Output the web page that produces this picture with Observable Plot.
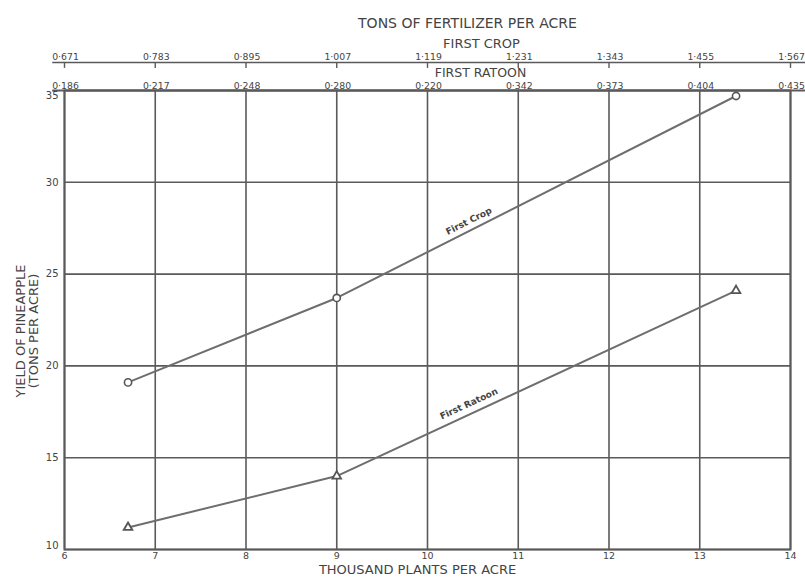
<!DOCTYPE html>
<html>
<head>
<meta charset="utf-8">
<script src="https://cdn.jsdelivr.net/npm/d3@7"></script>
<script src="https://cdn.jsdelivr.net/npm/@observablehq/plot@0.6"></script>
<style>
  html, body { margin: 0; padding: 0; background: #fff; }
</style>
</head>
<body>
<div id="chart"></div>
<script>
// ---- data ----
const xTicks = [6, 7, 8, 9, 10, 11, 12, 13, 14];
const yTicks = [10, 15, 20, 25, 30, 35];
const cropFertLabels = ["0·671", "0·783", "0·895", "1·007", "1·119", "1·231", "1·343", "1·455", "1·567"];
const ratoonFertLabels = ["0·186", "0·217", "0·248", "0·280", "0·220", "0·342", "0·373", "0·404", "0·435"];
const plants = [6.7, 9.0, 13.4];
const firstCrop = [19.1, 23.7, 34.7];
const firstRatoon = [11.2, 14.0, 24.1];
const seriesNames = ["First Crop", "First Ratoon"];

const crop = plants.map((x, i) => ({x, y: firstCrop[i]}));
const ratoon = plants.map((x, i) => ({x, y: firstRatoon[i]}));

// label position: point on a series' segment at a given x
function onLine(pts, x) {
  for (let i = 0; i < pts.length - 1; i++) {
    if (x >= pts[i].x && x <= pts[i + 1].x) {
      const t = (x - pts[i].x) / (pts[i + 1].x - pts[i].x);
      return pts[i].y + t * (pts[i + 1].y - pts[i].y);
    }
  }
  return pts[pts.length - 1].y;
}
const labelAt = 10.5;

const ink = "#444";
const gridInk = "#5a5a5a";
const lineInk = "#6e6e6e";
const font = "'DejaVu Sans', 'Liberation Sans', sans-serif";

const yMid = yTicks.slice(1, -1);
const yMin = yTicks[0];
const yMax = yTicks[yTicks.length - 1];

const chart = Plot.plot({
  width: 805,
  height: 581,
  marginLeft: 64,
  marginRight: 15,
  marginTop: 90,
  marginBottom: 32,
  style: {fontFamily: font, background: "#fff", color: ink},
  x: {domain: [6, 14]},
  y: {domain: [yMin, yMax]},
  marks: [
    Plot.gridX(xTicks, {stroke: gridInk, strokeOpacity: 1, strokeWidth: 1.6}),
    Plot.gridY(yTicks, {stroke: gridInk, strokeOpacity: 1, strokeWidth: 1.6}),
    Plot.frame({stroke: gridInk, strokeWidth: 2}),
    // top border extended slightly (First Ratoon scale line)
    Plot.ruleY([yMax], {x1: 5.87, x2: 14.17, stroke: gridInk, strokeWidth: 2}),
    // First Crop fertilizer scale line + ticks
    Plot.ruleY([yMax], {x1: 5.87, x2: 14.17, dy: -28, stroke: gridInk, strokeWidth: 1.6}),
    Plot.ruleX(xTicks, {y1: yMax, y2: yMax - 0.32, dy: -28, stroke: gridInk, strokeWidth: 1.4}),
    Plot.text(xTicks, {x: d => d, text: (d, i) => cropFertLabels[i], frameAnchor: "top", dy: -37, dx: 1, fontSize: 9.3, fill: ink}),
    Plot.text(xTicks, {x: d => d, text: (d, i) => ratoonFertLabels[i], frameAnchor: "top", lineAnchor: "bottom", dy: -2, dx: 1, fontSize: 9.3, fill: ink}),
    // headings
    Plot.text(["TONS OF FERTILIZER PER ACRE"], {frameAnchor: "top", dx: 40, dy: -72, fontSize: 14, fill: ink}),
    Plot.text(["FIRST CROP"], {frameAnchor: "top", dx: 54, dy: -52, fontSize: 13, fill: ink}),
    Plot.text(["FIRST RATOON"], {frameAnchor: "top", dx: 53, dy: -22, fontSize: 12.5, fill: ink}),
    Plot.text(["THOUSAND PLANTS PER ACRE"], {frameAnchor: "bottom", dx: -10, dy: 24, fontSize: 13, fill: ink}),
    Plot.text(["YIELD OF PINEAPPLE\n(TONS PER ACRE)"], {frameAnchor: "left", textAnchor: "middle", rotate: -90, dx: -37, dy: 11, fontSize: 13, lineHeight: 1.0, fill: ink}),
    // y axis
    Plot.axisY(yMid, {tickSize: 0, tickPadding: 6, fontSize: 10, label: null, fill: ink}),
    Plot.text([yMax], {y: d => d, frameAnchor: "left", textAnchor: "end", dx: -6, dy: 5, fontSize: 10, fill: ink}),
    Plot.text([yMin], {y: d => d, frameAnchor: "left", textAnchor: "end", dx: -6, dy: -4, fontSize: 10, fill: ink}),
    // x axis
    Plot.axisX(xTicks, {tickSize: 0, tickPadding: 3, fontSize: 9.5, label: null, fill: ink}),
    // series
    Plot.line(crop, {x: "x", y: "y", stroke: lineInk, strokeWidth: 2}),
    Plot.line(ratoon, {x: "x", y: "y", stroke: lineInk, strokeWidth: 2}),
    Plot.dot(crop, {x: "x", y: "y", symbol: "circle", r: 3.6, fill: "#fff", stroke: "#555", strokeWidth: 1.6}),
    Plot.dot(ratoon, {x: "x", y: "y", symbol: "triangle", r: 3.2, fill: "#fff", stroke: "#555", strokeWidth: 1.8}),
    // series labels along the lines
    Plot.text([seriesNames[0]], {x: labelAt, y: onLine(crop, labelAt), rotate: -26.6, dy: -8, dx: -4, fontSize: 9, fontWeight: "bold", fill: ink}),
    Plot.text([seriesNames[1]], {x: labelAt, y: onLine(ratoon, labelAt), rotate: -24.8, dy: -9, dx: -4, fontSize: 9, fontWeight: "bold", fill: ink})
  ]
});
document.getElementById("chart").appendChild(chart);
</script>
</body>
</html>
